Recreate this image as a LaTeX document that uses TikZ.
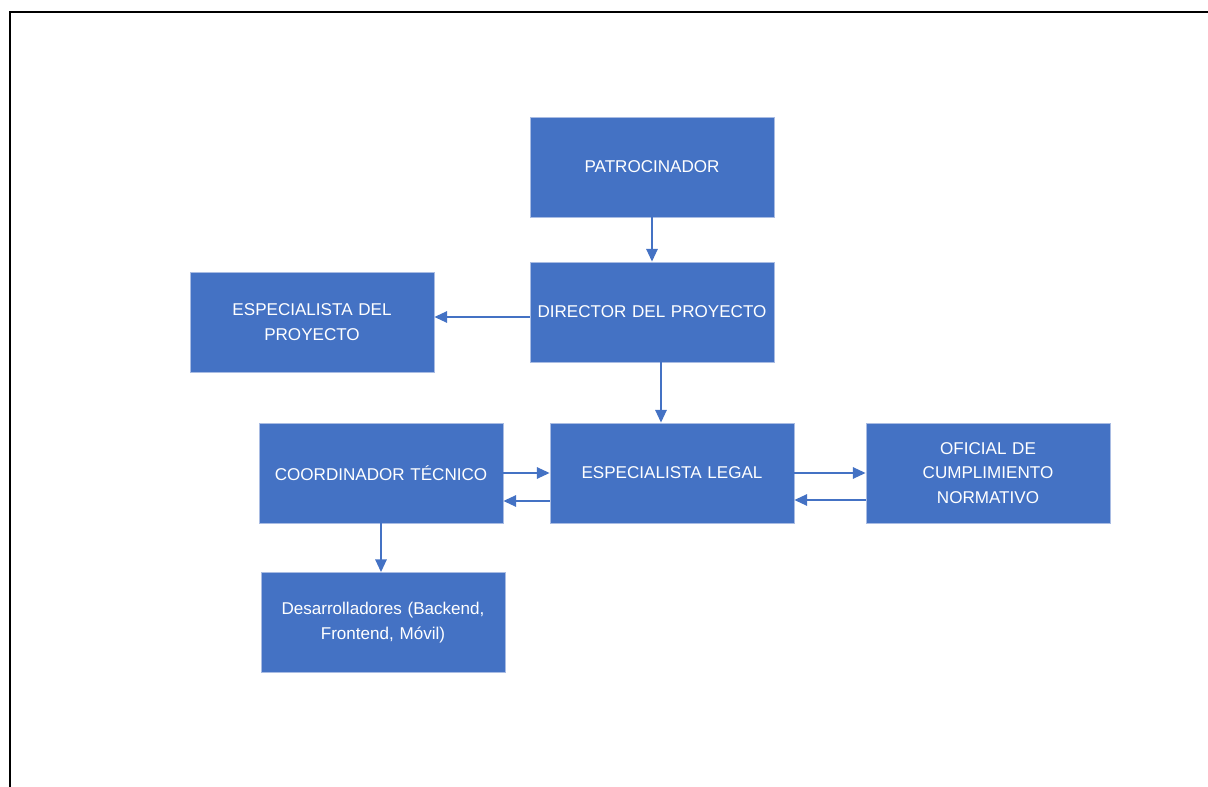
\documentclass[tikz,border=0pt]{standalone}
\usepackage{fontspec}
\setmainfont{Liberation Sans}
\usetikzlibrary{arrows.meta}
\definecolor{boxblue}{HTML}{4472C4}
\definecolor{boxedge}{HTML}{A9BCE3}
\begin{document}
\begin{tikzpicture}[x = 0.75pt, y = -0.75pt,
        rolebox/.style = {fill = boxblue, draw = boxedge, line width = 0.6pt, text = white,
            minimum width = 183pt, minimum height = 75pt, inner sep = 0pt, align = center,
            text width = 175pt, font = \fontsize{12.8}{18.5}\selectfont},
        link/.style = {draw = boxblue, line width = 1.3pt, -{Triangle[length = 9.5pt, width = 8.5pt]}},
        frameline/.style = {draw = black, line width = 1.6pt}]
        \useasboundingbox (0, 0) rectangle (1208, 787);
        \draw[frameline] (10, 787) -- (10, 12) -- (1208, 12);
        \node[rolebox] (patro) at (652, 167) {PATROCINADOR};
        \node[rolebox] (director) at (652, 312) {DIRECTOR DEL PROYECTO};
        \node[rolebox] (espproy) at (312, 322) {ESPECIALISTA DEL\\PROYECTO};
        \node[rolebox] (coord) at (381, 473) {COORDINADOR TÉCNICO};
        \node[rolebox] (legal) at (672, 473) {ESPECIALISTA LEGAL};
        \node[rolebox] (oficial) at (988, 473) {OFICIAL DE\\CUMPLIMIENTO\\NORMATIVO};
        \node[rolebox] (desarr) at (383, 622.5) {Desarrolladores (Backend,\\Frontend, Móvil)};
        \draw[link] (patro.south) -- (director.north);
        \draw[link] ([yshift = -3.75pt]director.west) -- ([yshift = -3.75pt]director.west -| espproy.east);
        \draw[link] ([xshift = 6.75pt]director.south) -- ([xshift = 6.75pt]director.south |- legal.north);
        \draw[link] (coord.east) -- (legal.west);
        \draw[link] ([yshift = -21pt]legal.west) -- ([yshift = -21pt]coord.east);
        \draw[link] (legal.east) -- (oficial.west);
        \draw[link] ([yshift = -20.25pt]oficial.west) -- ([yshift = -20.25pt]legal.east);
        \draw[link] (coord.south) -- (coord.south |- desarr.north);
    \end{tikzpicture}
\end{document}
